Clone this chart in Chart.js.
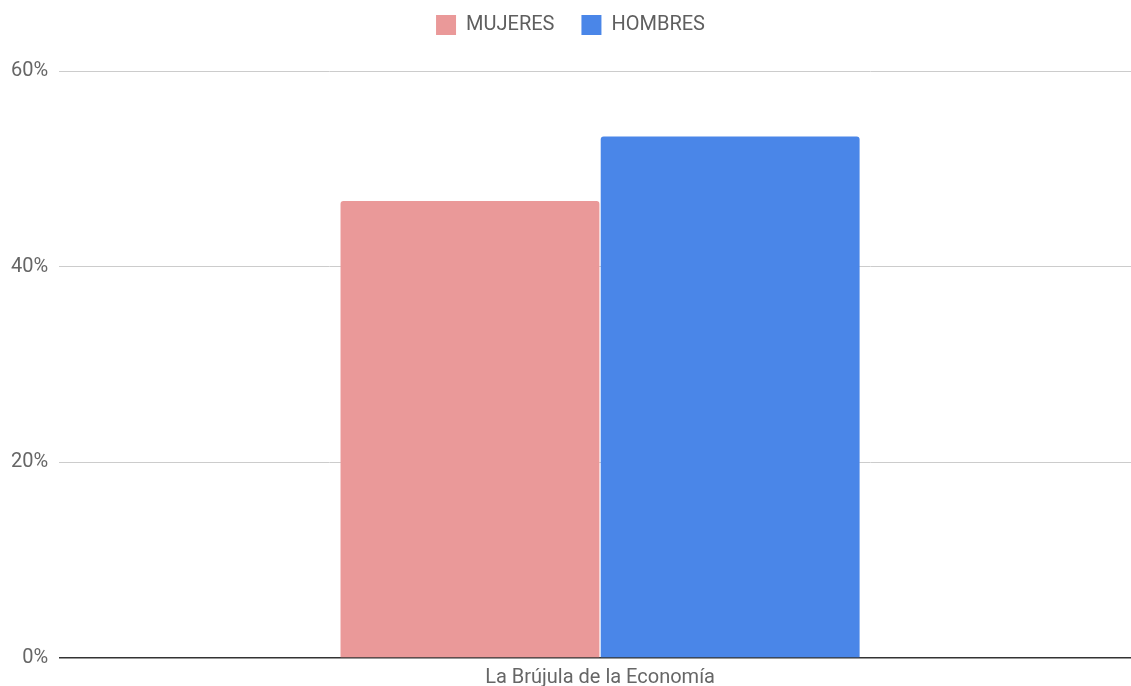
<!DOCTYPE html>
<html>
<head>
<meta charset="utf-8">
<script src="https://cdn.jsdelivr.net/npm/chart.js@4.4.0/dist/chart.umd.min.js"></script>
<style>
  html, body { margin: 0; padding: 0; background: #fff; overflow: hidden; }
  /* plot runs a little past the right edge, like the original */
  #wrap { width: 1141px; height: 686px; }
</style>
</head>
<body>
<div id="wrap"><canvas id="chart"></canvas></div>
<script>
const categories = ['La Brújula de la Economía'];
const mujeres = [46.7];
const hombres = [53.3];
const yTicks = [0, 20, 40, 60];

Chart.defaults.font.family = 'Roboto, "Noto Sans", sans-serif';

// a bit more room between the legend and the plot
const legendGap = {
  id: 'legendGap',
  beforeInit(chart) {
    const fit = chart.legend.fit;
    chart.legend.fit = function () {
      fit.bind(chart.legend)();
      this.height += 26;
    };
  }
};

new Chart(document.getElementById('chart'), {
  type: 'bar',
  data: {
    labels: categories,
    datasets: [{
      label: 'MUJERES',
      data: mujeres,
      backgroundColor: '#ea9999',
      borderRadius: { topLeft: 3, topRight: 3 },
      borderSkipped: 'bottom'
    }, {
      label: 'HOMBRES',
      data: hombres,
      backgroundColor: '#4a86e8',
      borderRadius: { topLeft: 3, topRight: 3 },
      borderSkipped: 'bottom'
    }]
  },
  options: {
    responsive: true,
    maintainAspectRatio: false,
    animation: false,
    categoryPercentage: 0.481,
    barPercentage: 0.995,
    layout: { padding: { top: -12, right: 0, bottom: -12, left: 0 } },
    plugins: {
      tooltip: { enabled: false },
      legend: {
        position: 'top',
        labels: {
          boxWidth: 20,
          boxHeight: 20,
          padding: 27,
          color: '#5f5f5f',
          font: { size: 20 }
        }
      }
    },
    scales: {
      x: {
        grid: { display: false, drawTicks: false },
        border: { display: false },
        ticks: { color: '#666666', font: { size: 20 }, padding: 8 }
      },
      y: {
        min: 0,
        max: 60,
        afterBuildTicks: axis => { axis.ticks = yTicks.map(v => ({ value: v })); },
        grid: {
          drawTicks: false,
          color: ctx => ctx.tick && ctx.tick.value === 0 ? '#333333' : '#cccccc',
          lineWidth: ctx => ctx.tick && ctx.tick.value === 0 ? 1.5 : 1
        },
        border: { display: false },
        ticks: {
          color: '#666666',
          font: { size: 20 },
          padding: 11,
          callback: v => v + '%'
        }
      }
    }
  },
  plugins: [legendGap]
});
</script>
</body>
</html>
